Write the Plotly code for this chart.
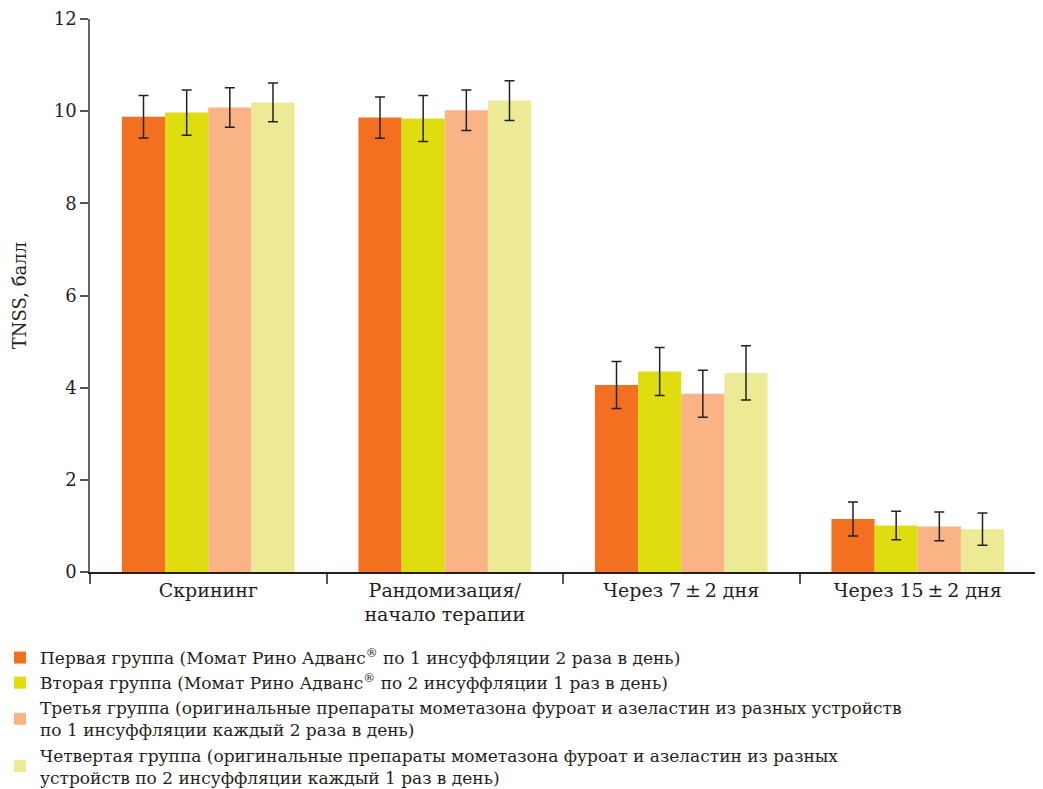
import plotly.graph_objects as go

categories = ["Скрининг", "Рандомизация/<br>начало терапии", "Через 7\u2009±\u20092 дня", "Через 15\u2009±\u20092 дня"]

group_names = [
    "Первая группа (Момат Рино Адванс<sup>®</sup> по 1 инсуффляции 2 раза в день)",
    "Вторая группа (Момат Рино Адванс<sup>®</sup> по 2 инсуффляции 1 раз в день)",
    "Третья группа (оригинальные препараты мометазона фуроат и азеластин из разных устройств<br>по 1 инсуффляции каждый 2 раза в день)",
    "Четвертая группа (оригинальные препараты мометазона фуроат и азеластин из разных<br>устройств по 2 инсуффляции каждый 1 раз в день)",
]

group1 = [9.88, 9.86, 4.06, 1.15]
group2 = [9.97, 9.84, 4.35, 1.01]
group3 = [10.08, 10.02, 3.87, 0.99]
group4 = [10.19, 10.23, 4.32, 0.93]

err1 = [0.46, 0.45, 0.51, 0.37]
err2 = [0.49, 0.50, 0.52, 0.31]
err3 = [0.43, 0.44, 0.51, 0.31]
err4 = [0.42, 0.43, 0.59, 0.35]

colors = ["#F37021", "#DFDD10", "#F9B384", "#EDEA96"]

font_family = "DejaVu Serif"

fig = go.Figure()
for name, vals, errs, col in zip(group_names, [group1, group2, group3, group4],
                                 [err1, err2, err3, err4], colors):
    fig.add_trace(go.Bar(
        x=categories, y=vals, name=name,
        marker=dict(color=col, line=dict(width=0)),
        error_y=dict(type="data", array=errs, visible=True,
                     color="#222222", thickness=1.5, width=5),
    ))

fig.update_layout(
    width=1035, height=781,
    margin=dict(l=82, r=7, t=11, b=217, autoexpand=False),
    paper_bgcolor="white", plot_bgcolor="white",
    barmode="group", bargap=0.27, bargroupgap=0,
    font=dict(family=font_family, size=18, color="#231F20"),
    showlegend=True,
    legend=dict(
        x=-90 / 946, y=-(640 - 572) / 553, xanchor="left", yanchor="top",
        orientation="v", traceorder="normal",
        font=dict(family=font_family, size=17, color="#231F20"),
        itemwidth=30, tracegroupgap=0, bgcolor="rgba(0,0,0,0)",
    ),
    xaxis=dict(
        showline=True, linecolor="#231F20", linewidth=1.5,
        ticks="outside", ticklen=10, tickcolor="#555555", tickwidth=1.5,
        tickson="boundaries", showgrid=False, zeroline=False, tickangle=0,
        tickfont=dict(family=font_family, size=19, color="#231F20"),
    ),
    yaxis=dict(
        range=[0, 12], dtick=2, tick0=0, ticklabeloverflow="allow",
        showline=True, linecolor="#666666", linewidth=1.5,
        ticks="outside", ticklen=8, tickcolor="#555555", tickwidth=1.5,
        showgrid=False, zeroline=False,
        tickfont=dict(family=font_family, size=18, color="#231F20"),
        title=dict(text="TNSS, балл", font=dict(family=font_family, size=18, color="#231F20"), standoff=22),
    ),
)

fig.write_html("out.html")
